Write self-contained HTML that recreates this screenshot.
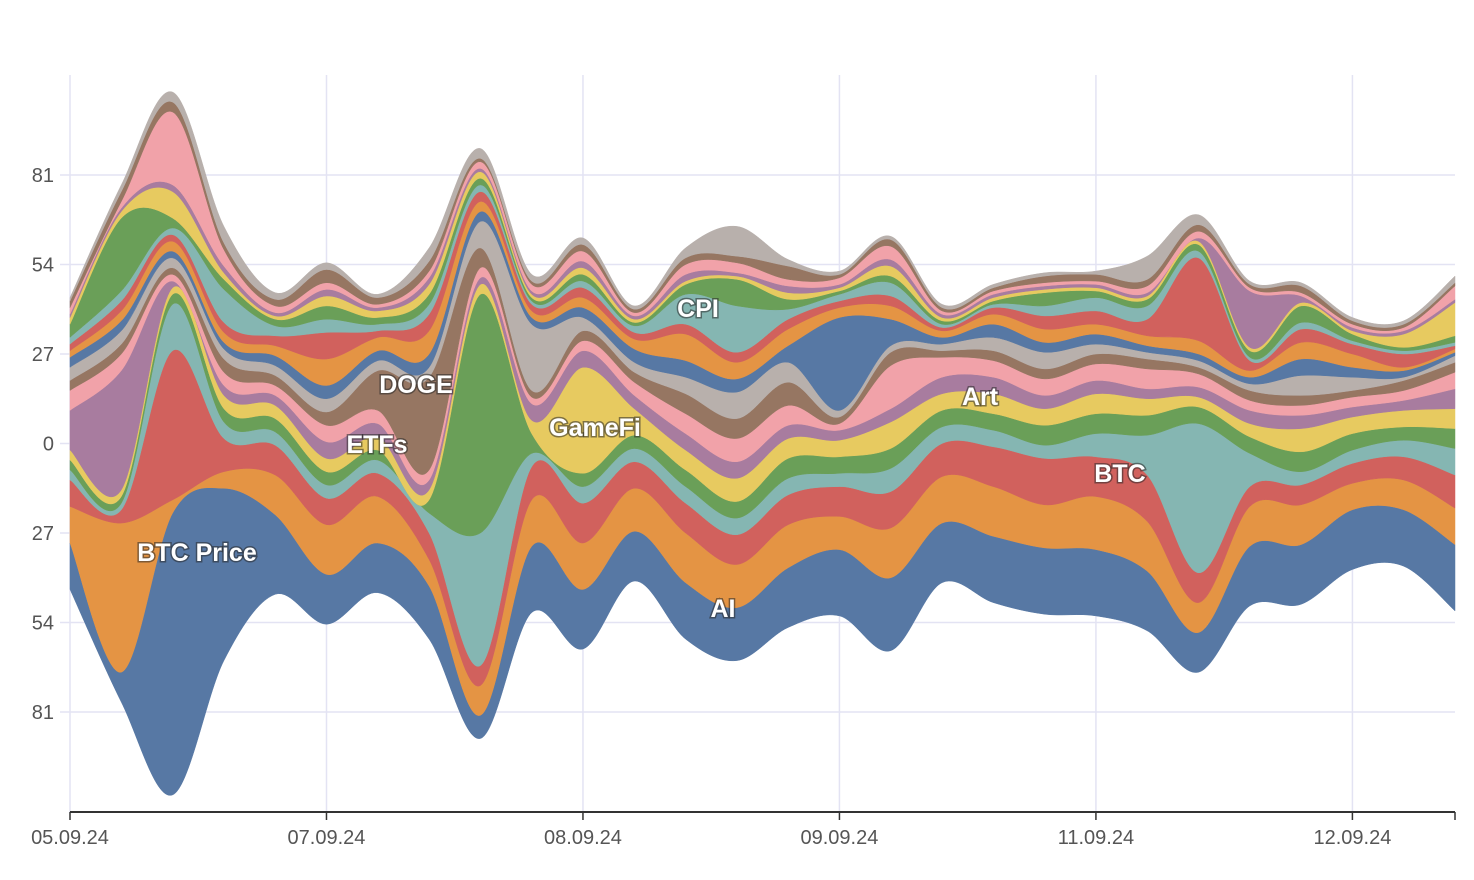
<!DOCTYPE html>
<html><head><meta charset="utf-8"><style>
html,body{margin:0;padding:0;background:#fff;}
svg{display:block;font-family:"Liberation Sans",sans-serif;}
.lbl{fill:#fff;font-weight:bold;font-size:25px;text-anchor:middle;paint-order:stroke;stroke:rgba(40,40,40,0.55);stroke-width:3px;}
</style></head><body>
<svg id="chart" width="1474" height="880" viewBox="0 0 1474 880" xmlns="http://www.w3.org/2000/svg">
<g id="grid"></g>
<g id="layers"></g>
<g id="axes"></g>
<g id="labels">
<text class="lbl" x="197" y="561">BTC Price</text>
<text class="lbl" x="723" y="617">AI</text>
<text class="lbl" x="1120" y="482">BTC</text>
<text class="lbl" x="377" y="453">ETFs</text>
<text class="lbl" x="416" y="393">DOGE</text>
<text class="lbl" x="595" y="436">GameFi</text>
<text class="lbl" x="698" y="317">CPI</text>
<text class="lbl" x="980" y="405">Art</text>
</g>
</svg>
<script>
const xTickLabels = ["05.09.24","07.09.24","08.09.24","09.09.24","11.09.24","12.09.24"];
const xTickIndex = [0,5,10,15,20,25];
const yTickValues = [81,54,27,0,-27,-54,-81];
const s0 = [14,9,85,52,24,15,15,16,7,20,18,15,17,16,18,20,22,18,20,20,20,18,12,18,18,18,17,20];
const s1 = [11,45,4,5,12,15,14,8,9,14,14,13,15,13,13,10,15,14,15,13,16,15,9,12,12,8,9,11];
const s2 = [8,4,45,10,9,8,7,8,6,10,12,8,9,9,9,9,11,10,12,14,12,14,9,6,6,6,7,10];
const s3 = [3,2,14,5,4,4,4,6,40,4,5,4,5,5,5,4,7,5,5,4,7,12,45,10,4,4,5,8];
const s4 = [3,2,3,4,4,4,3,4,72,6,4,4,5,5,6,5,6,5,5,6,6,6,5,5,6,5,4,6];
const s5 = [3,2,2,4,4,4,4,3,3,4,32,8,6,7,6,5,8,5,6,5,6,5,3,4,7,5,5,6];
const s6 = [12,36,2,3,3,5,4,3,2,5,5,4,5,5,4,3,4,5,5,4,4,3,3,4,4,3,3,6];
const s7 = [6,5,2,4,3,5,4,3,3,2,3,4,6,7,6,2,13,6,5,5,5,6,4,3,3,3,3,5];
const s8 = [3,3,2,4,3,4,12,28,6,2,3,3,6,6,7,2,4,2,3,3,3,3,2,3,3,2,3,3];
const s9 = [4,4,3,3,3,4,3,3,8,20,4,3,5,8,6,2,2,2,4,5,3,2,2,2,6,4,1,2];
const s10 = [3,3,2,2,3,4,3,4,3,2,3,4,5,4,5,28,8,2,4,3,3,2,2,2,5,3,2,1];
const s11 = [2,3,3,3,3,8,4,7,3,2,3,3,8,5,5,3,4,2,3,4,3,3,4,2,5,4,1,1];
const s12 = [2,3,2,3,3,8,2,5,3,2,3,2,3,3,3,2,3,1,2,4,4,5,25,3,4,3,4,1];
const s13 = [2,3,2,10,3,4,2,3,2,1,2,2,9,14,3,2,4,1,1,3,4,4,2,1,2,1,1,1];
const s14 = [4,22,3,3,2,4,2,3,2,1,2,1,3,8,3,1,2,1,1,4,2,2,2,2,5,2,1,2];
const s15 = [2,2,8,2,1,3,2,3,2,1,2,1,1,1,2,1,3,1,1,1,1,1,1,1,1,1,4,10];
const s16 = [1,1,2,2,1,2,1,2,1,1,2,1,2,1,2,1,2,1,1,1,1,1,1,17,2,1,1,1];
const s17 = [2,2,22,5,2,2,1,2,2,2,3,1,3,3,2,2,4,1,1,1,1,2,2,1,1,1,1,4];
const s18 = [2,3,3,2,2,4,2,3,1,1,2,1,2,2,4,1,2,1,1,2,2,2,2,1,2,1,1,1];
const s19 = [1,2,3,5,2,2,1,4,3,2,2,1,3,9,2,1,1,1,1,1,1,7,3,1,1,1,1,2];
const series = [s0,s1,s2,s3,s4,s5,s6,s7,s8,s9,s10,s11,s12,s13,s14,s15,s16,s17,s18,s19];
const colors = ["#5778a4","#e49444","#d1615d","#85b6b2","#6a9f58","#e7ca60","#a87c9f","#f1a2a9","#967662","#b8b0ac"];

const NS = "http://www.w3.org/2000/svg";
const X0 = 70, X1 = 1455, N = s0.length;
function xScale(i){ return X0 + (X1 - X0) * i / (N - 1); }
function yScale(v){ return 443.5 - v * 3.315; }

// grid
const grid = document.getElementById('grid');
yTickValues.forEach(v => {
  const l = document.createElementNS(NS,'line');
  
  
  l.setAttribute('x1', 60); l.setAttribute('x2', X1);
  l.setAttribute('y1', yScale(v)); l.setAttribute('y2', yScale(v));
  l.setAttribute('stroke', '#e3e3f3'); l.setAttribute('stroke-width', 1.5);
  grid.appendChild(l);
});
xTickIndex.forEach(i => {
  const l = document.createElementNS(NS,'line');
  
  
  l.setAttribute('x1', xScale(i)); l.setAttribute('x2', xScale(i));
  l.setAttribute('y1', 75); l.setAttribute('y2', 812);
  l.setAttribute('stroke', '#e3e3f3'); l.setAttribute('stroke-width', 1.5);
  grid.appendChild(l);
});

// stack with silhouette offset
const totals = [];
for (let i = 0; i < N; i++){ let s = 0; series.forEach(a => s += a[i]); totals.push(s); }
const lower = [], upper = [];
const base = totals.map(t => -t / 2);
series.forEach((a, k) => {
  const lo = [], up = [];
  for (let i = 0; i < N; i++){ lo.push(base[i]); base[i] += a[i]; up.push(base[i]); }
  lower.push(lo); upper.push(up);
});

function catmull(pts){
  let d = '';
  for (let i = 0; i < pts.length - 1; i++){
    const p0 = pts[Math.max(0, i - 1)], p1 = pts[i], p2 = pts[i + 1], p3 = pts[Math.min(pts.length - 1, i + 2)];
    const c1x = p1[0] + (p2[0] - p0[0]) / 6, c1y = p1[1] + (p2[1] - p0[1]) / 6;
    const c2x = p2[0] - (p3[0] - p1[0]) / 6, c2y = p2[1] - (p3[1] - p1[1]) / 6;
    d += ' C' + c1x.toFixed(1) + ',' + c1y.toFixed(1) + ' ' + c2x.toFixed(1) + ',' + c2y.toFixed(1) + ' ' + p2[0].toFixed(1) + ',' + p2[1].toFixed(1);
  }
  return d;
}
const layersG = document.getElementById('layers');
series.forEach((a, k) => {
  const up = upper[k].map((v, i) => [xScale(i), yScale(v)]);
  const lo = lower[k].map((v, i) => [xScale(i), yScale(v)]).reverse();
  const d = 'M' + up[0][0] + ',' + up[0][1].toFixed(1) + catmull(up) + ' L' + lo[0][0] + ',' + lo[0][1].toFixed(1) + catmull(lo) + ' Z';
  const p = document.createElementNS(NS, 'path');
  
  
  p.setAttribute('d', d);
  p.setAttribute('fill', colors[k % 10]);
  p.setAttribute('stroke', colors[k % 10]);
  p.setAttribute('stroke-width', '0.5');
  layersG.appendChild(p);
});

// axes
const axes = document.getElementById('axes');
const ax = document.createElementNS(NS, 'line');


ax.setAttribute('x1', X0); ax.setAttribute('x2', X1); ax.setAttribute('y1', 812); ax.setAttribute('y2', 812);
ax.setAttribute('stroke', '#333'); ax.setAttribute('stroke-width', 2);
axes.appendChild(ax);
const endTick = document.createElementNS(NS, 'line');


endTick.setAttribute('x1', X1); endTick.setAttribute('x2', X1); endTick.setAttribute('y1', 812); endTick.setAttribute('y2', 820);
endTick.setAttribute('stroke', '#333'); endTick.setAttribute('stroke-width', 1.5);
axes.appendChild(endTick);
xTickIndex.forEach((idx, j) => {
  const tk = document.createElementNS(NS, 'line');
  
  
  tk.setAttribute('x1', xScale(idx)); tk.setAttribute('x2', xScale(idx)); tk.setAttribute('y1', 812); tk.setAttribute('y2', 820);
  tk.setAttribute('stroke', '#333'); tk.setAttribute('stroke-width', 1.5);
  axes.appendChild(tk);
  const t = document.createElementNS(NS, 'text');
  
  
  t.setAttribute('x', xScale(idx)); t.setAttribute('y', 844);
  t.setAttribute('text-anchor', 'middle'); t.setAttribute('font-size', '20'); t.setAttribute('fill', '#555');
  t.textContent = xTickLabels[j];
  axes.appendChild(t);
});
yTickValues.forEach(v => {
  const t = document.createElementNS(NS, 'text');
  
  
  t.setAttribute('x', 54); t.setAttribute('y', yScale(v) + 7);
  t.setAttribute('text-anchor', 'end'); t.setAttribute('font-size', '20'); t.setAttribute('fill', '#555');
  t.textContent = String(Math.abs(v));
  axes.appendChild(t);
});
</script>
</body></html>
